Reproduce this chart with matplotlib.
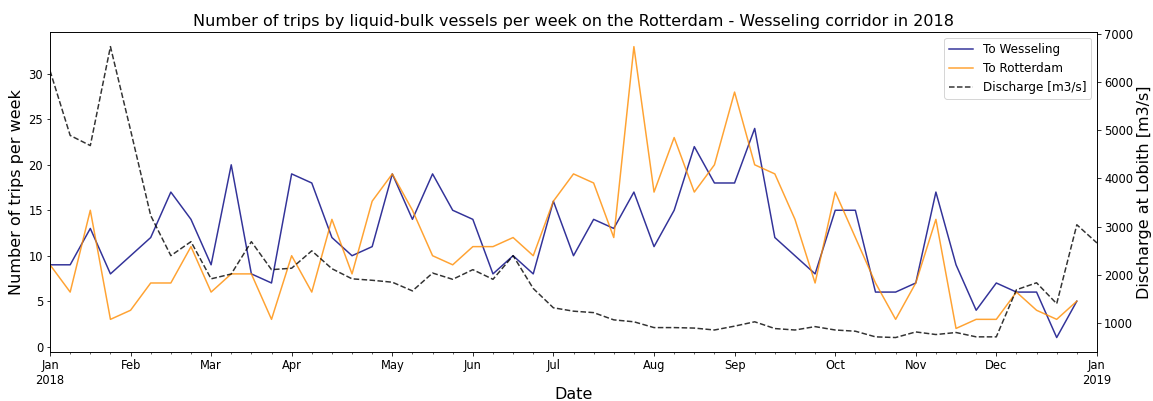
import matplotlib
matplotlib.use('Agg')
import matplotlib.pyplot as plt
import matplotlib.ticker as mticker
import matplotlib.dates as mdates
import pandas as pd
import numpy as np

# weekly values (weeks starting on Monday, 2018)
to_wesseling = [9, 9, 13, 8, 10, 12, 17, 14, 9, 20, 8, 7, 19, 18, 12,
                10, 11, 19, 14, 19, 15, 14, 8, 10, 8, 16, 10, 14, 13,
                17, 11, 15, 22, 18, 18, 24, 12, 10, 8, 15, 15, 6, 6,
                7, 17, 9, 4, 7, 6, 6, 1, 5]
to_rotterdam = [9, 6, 15, 3, 4, 7, 7, 11, 6, 8, 8, 3, 10, 6, 14,
                8, 16, 19, 15, 10, 9, 11, 11, 12, 10, 16, 19, 18, 12,
                33, 17, 23, 17, 20, 28, 20, 19, 14, 7, 17, 12, 7, 3,
                7, 14, 2, 3, 3, 6, 4, 3, 5]
discharge = [6230, 4890, 4680, 6730, 5000, 3230, 2400, 2690, 1920, 2020,
             2690, 2110, 2140, 2500, 2130, 1920, 1890, 1850, 1670, 2040,
             1910, 2110, 1910, 2400, 1720, 1320, 1250, 1220, 1070, 1030,
             910, 910, 900, 860, 940, 1030, 890, 860, 930, 860, 835, 718,
             704, 820, 766, 808, 718, 718, 1694, 1838, 1405, 3040, 2663]

weeks = pd.date_range('2018-01-01', periods=len(discharge), freq='7D')
trip_weeks = weeks[:len(to_wesseling)]

fig, ax = plt.subplots(figsize=(1153 / 72, 401 / 72), dpi=72)
fig.subplots_adjust(left=0.0434, right=0.9514, top=0.920, bottom=0.122)

l1, = ax.plot(trip_weeks, to_wesseling, color='navy', alpha=0.8, lw=1.5, label='To Wesseling')
l2, = ax.plot(trip_weeks, to_rotterdam, color='darkorange', alpha=0.8, lw=1.5, label='To Rotterdam')
ax.set_ylabel('Number of trips per week', fontsize=16)
ax.set_xlabel('Date', fontsize=16, labelpad=0)
ax.set_title('Number of trips by liquid-bulk vessels per week on the Rotterdam - Wesseling corridor in 2018',
             fontsize=16)

ax2 = ax.twinx()
l3, = ax2.plot(weeks, discharge, color='black', ls='--', alpha=0.8, lw=1.5, label='Discharge [m3/s]')
ax2.set_ylabel('Discharge at Lobith [m3/s]', fontsize=16)

# weekly axis like pandas: a month label on the week that holds the 1st
ax.set_xlim(weeks[0], weeks[-1])
week_end = weeks + pd.Timedelta(days=6)
major, labels = [], []
for i, (w, e) in enumerate(zip(weeks, week_end)):
    if i == 0 or e.month != week_end[i - 1].month:
        major.append(mdates.date2num(w))
        labels.append(e.strftime('%b\n%Y') if e.month == 1 else e.strftime('%b'))
ax.xaxis.set_major_locator(mticker.FixedLocator(major))
ax.xaxis.set_major_formatter(mticker.FixedFormatter(labels))
ax.xaxis.set_minor_locator(mticker.FixedLocator(
    [mdates.date2num(w) for w in weeks if mdates.date2num(w) not in major]))

for a in (ax, ax2):
    a.tick_params(labelsize=11.5)

ax.legend(handles=[l1, l2, l3], loc='upper right', fontsize=12)

fig.savefig('out.png', dpi=72)
